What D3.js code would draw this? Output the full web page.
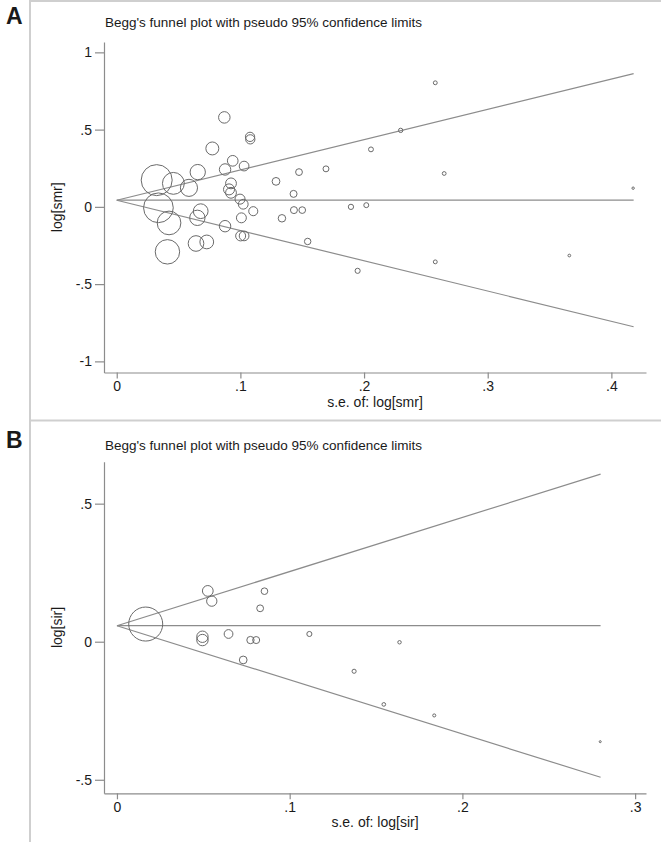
<!DOCTYPE html>
<html>
<head>
<meta charset="utf-8">
<script src="https://cdn.jsdelivr.net/npm/d3@7"></script>
<style>
body { margin: 0; background: #fff; }
text { font-family: Arial, "Liberation Sans", sans-serif; fill: #1a1a1a; }
</style>
</head>
<body>
<div id="div"></div>
<script>
// panel A: SMR studies (standard error, log SMR)
var seA = [0.0323, 0.0458, 0.0584, 0.0655, 0.0337, 0.0423, 0.0410, 0.0679, 0.0652, 0.0641,
    0.0728, 0.0773, 0.0870, 0.0938, 0.0876, 0.1030, 0.1078, 0.1080, 0.0924, 0.0908,
    0.0924, 0.0997, 0.1023, 0.1104, 0.1008, 0.0876, 0.1002, 0.1030, 0.1288, 0.1336,
    0.1430, 0.1474, 0.1433, 0.1500, 0.1544, 0.1692, 0.1894, 0.2018, 0.2056, 0.1948,
    0.2296, 0.2576, 0.2648, 0.2576, 0.3660, 0.4176];
var logSmr = [0.173, 0.152, 0.123, 0.225, -0.006, -0.104, -0.291, -0.028, -0.071, -0.237,
    -0.227, 0.378, 0.579, 0.298, 0.242, 0.264, 0.453, 0.437, 0.152, 0.113,
    0.091, 0.050, 0.017, -0.028, -0.071, -0.125, -0.188, -0.188, 0.165, -0.074,
    0.084, 0.225, -0.021, -0.021, -0.224, 0.246, 0.000, 0.011, 0.372, -0.414,
    0.495, 0.803, 0.216, -0.356, -0.315, 0.121];
// pseudo 95% limits, end points
var limitSeA = [0, 0.418];
var centerA = [0.043, 0.043];
var upperA = [0.043, 0.862];
var lowerA = [0.043, -0.776];
var xTicksA = [0, 0.1, 0.2, 0.3, 0.4];
var yTicksA = [-1, -0.5, 0, 0.5, 1];

// panel B: SIR studies (standard error, log SIR)
var seB = [0.01665, 0.0526, 0.0549, 0.0854, 0.0829, 0.0495, 0.0495, 0.0646, 0.0773, 0.0806,
    0.0731, 0.1114, 0.1636, 0.1373, 0.1545, 0.1837, 0.2798];
var logSir = [0.064, 0.184, 0.147, 0.183, 0.121, 0.018, 0.006, 0.028, 0.006, 0.006,
    -0.066, 0.028, -0.002, -0.107, -0.227, -0.267, -0.362];
var limitSeB = [0, 0.28];
var centerB = [0.058, 0.058];
var upperB = [0.058, 0.607];
var lowerB = [0.058, -0.491];
var xTicksB = [0, 0.1, 0.2, 0.3];
var yTicksB = [-0.5, 0, 0.5];

var title = "Begg's funnel plot with pseudo 95% confidence limits";

var width = 661, height = 842;
var svg = d3.select('#div').append('svg')
    .attr('width', width)
    .attr('height', height);

var frameColor = '#cfcfcf';
var axisColor = '#8c8c8c';

// light frame around the two panels
svg.append('line').attr('x1', 30).attr('x2', 30).attr('y1', 0).attr('y2', height)
    .style('stroke', frameColor).style('stroke-width', 2);
svg.append('line').attr('x1', 30).attr('x2', width).attr('y1', 1).attr('y2', 1)
    .style('stroke', frameColor).style('stroke-width', 2);
svg.append('line').attr('x1', 30).attr('x2', width).attr('y1', 420.5).attr('y2', 420.5)
    .style('stroke', frameColor).style('stroke-width', 2);

// Stata style numbers: .5 instead of 0.5
function stataFmt(d) {
    if (d === 0) return '0';
    return String(d).replace(/^(-?)0\./, '$1.');
}

function drawPanel(p) {
    var g = svg.append('g');

    var x = d3.scaleLinear().domain(p.xExtent).range([104, 646]);
    var y = d3.scaleLinear().domain(p.yExtent).range([p.bottom, p.top]);

    g.append('text')
        .text(p.letter)
        .attr('x', 6)
        .attr('y', p.letterY)
        .style('font-size', '23px')
        .style('font-weight', 'bold');

    g.append('text')
        .text(title)
        .attr('x', 105)
        .attr('y', p.titleY)
        .style('font-size', '13.5px');

    var xAxis = g.append('g')
        .attr('transform', 'translate(0,' + p.bottom + ')')
        .call(d3.axisBottom(x).tickValues(p.xTicks).tickFormat(stataFmt)
            .tickSize(6).tickSizeOuter(0).tickPadding(3));
    var yAxis = g.append('g')
        .attr('transform', 'translate(104,0)')
        .call(d3.axisLeft(y).tickValues(p.yTicks).tickFormat(stataFmt)
            .tickSize(9).tickSizeOuter(0).tickPadding(3));

    [xAxis, yAxis].forEach(function (a) {
        a.selectAll('path, line').style('stroke', axisColor).style('stroke-width', 1.2);
        a.selectAll('text').style('font-size', '14px').style('font-family', 'Arial, "Liberation Sans", sans-serif')
            .style('fill', '#1a1a1a');
    });

    g.append('text')
        .text(p.xLabel)
        .attr('x', 375)
        .attr('y', p.bottom + 34)
        .attr('text-anchor', 'middle')
        .style('font-size', '14px');

    g.append('text')
        .text(p.yLabel)
        .attr('transform', 'translate(62,' + (p.top + p.bottom) / 2 + ') rotate(-90)')
        .attr('text-anchor', 'middle')
        .style('font-size', '14px');

    // funnel lines
    var line = d3.line()
        .x(function (d) { return x(d[0]); })
        .y(function (d) { return y(d[1]); });
    [p.center, p.upper, p.lower].forEach(function (vals) {
        g.append('path')
            .datum(d3.zip(p.limitSe, vals))
            .attr('d', line)
            .style('fill', 'none')
            .style('stroke', axisColor)
            .style('stroke-width', 1.2);
    });

    // circles, area proportional to weight 1/se^2
    var pts = d3.zip(p.se, p.est);
    var r = d3.scaleSqrt()
        .domain([0, d3.max(p.se, function (s) { return 1 / (s * s); })])
        .range([0, p.rMax]);
    g.append('g').selectAll('circle')
        .data(pts)
        .enter()
        .append('circle')
        .attr('cx', function (d) { return x(d[0]); })
        .attr('cy', function (d) { return y(d[1]); })
        .attr('r', function (d) { return Math.max(1, r(1 / (d[0] * d[0]))); })
        .style('fill', 'none')
        .style('stroke', '#6a6a6a')
        .style('stroke-width', 1);
}

drawPanel({
    letter: 'A', letterY: 24, titleY: 27,
    top: 42, bottom: 372.5,
    xExtent: [-0.0103, 0.428], yExtent: [-1.072, 1.067],
    xTicks: xTicksA, yTicks: yTicksA,
    xLabel: 's.e. of: log[smr]', yLabel: 'log[smr]',
    se: seA, est: logSmr,
    limitSe: limitSeA, center: centerA, upper: upperA, lower: lowerA,
    rMax: 15.5
});

drawPanel({
    letter: 'B', letterY: 448, titleY: 450,
    top: 461.7, bottom: 793.3,
    xExtent: [-0.0075, 0.3063], yExtent: [-0.549, 0.652],
    xTicks: xTicksB, yTicks: yTicksB,
    xLabel: 's.e. of: log[sir]', yLabel: 'log[sir]',
    se: seB, est: logSir,
    limitSe: limitSeB, center: centerB, upper: upperB, lower: lowerB,
    rMax: 17
});
</script>
</body>
</html>
